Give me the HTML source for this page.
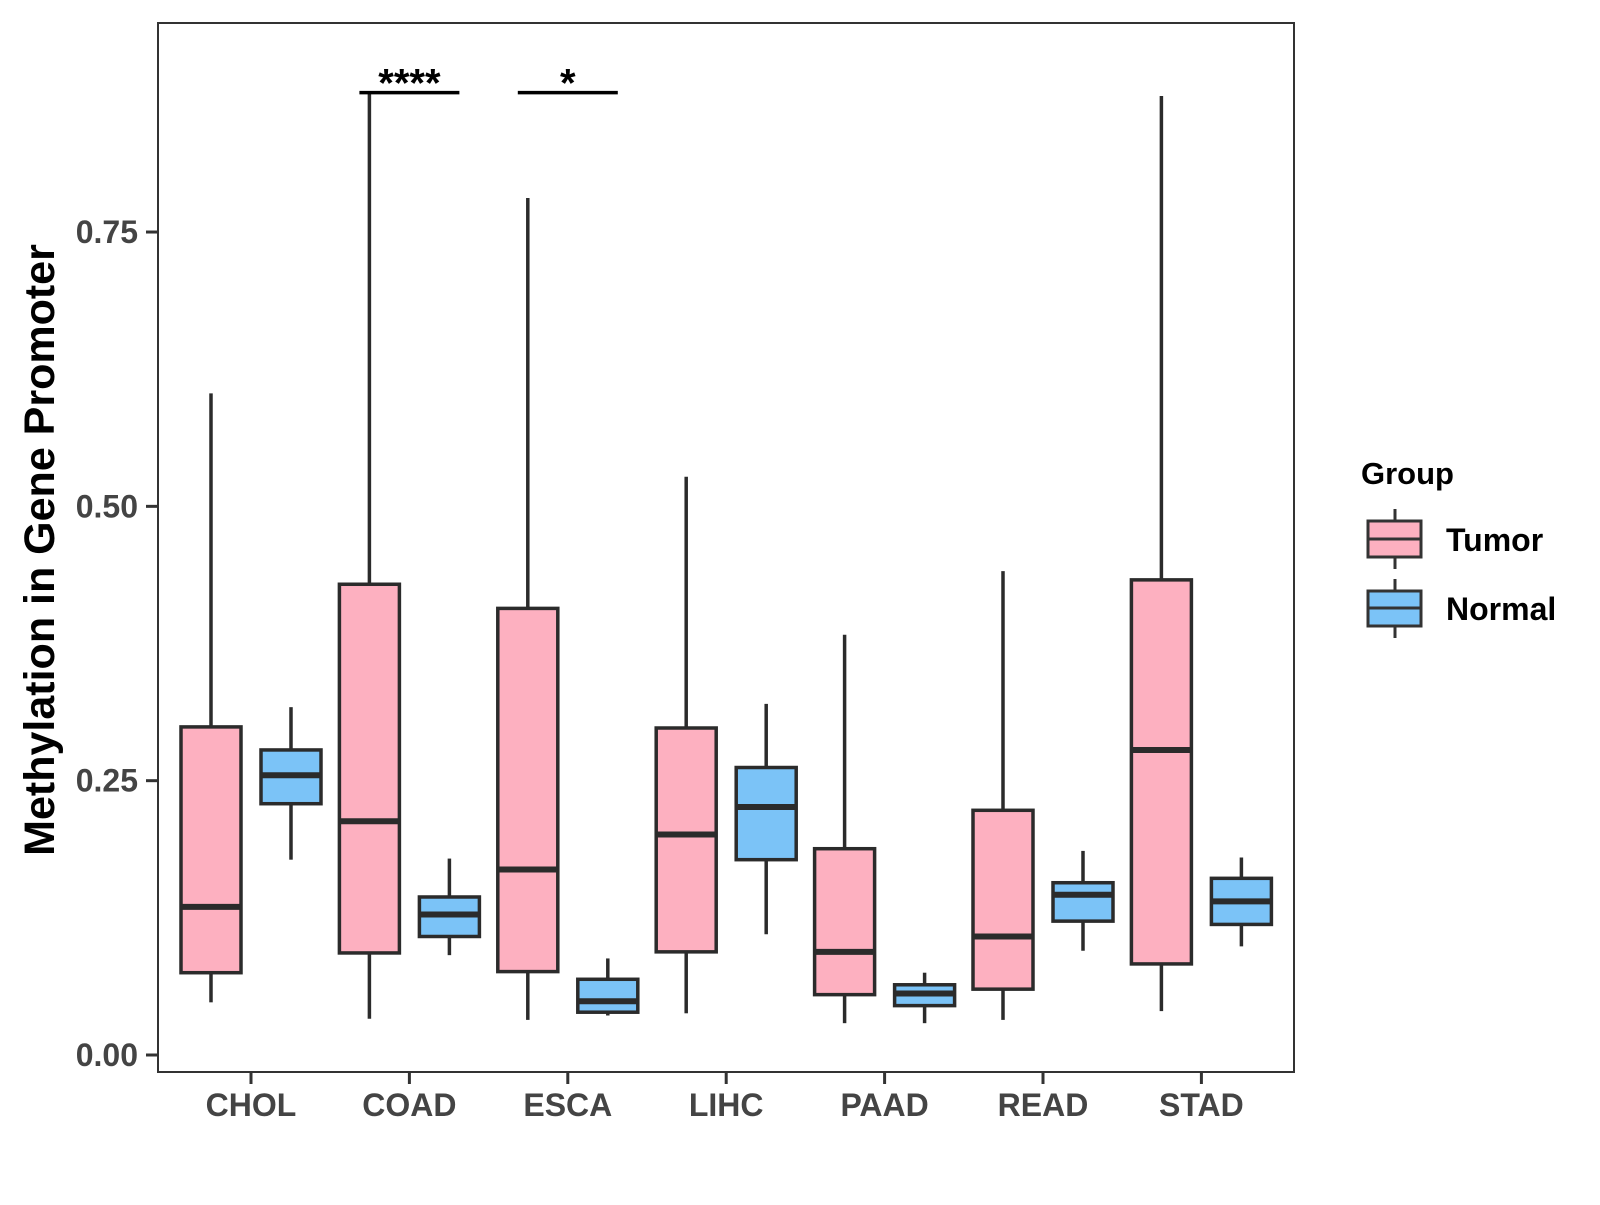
<!DOCTYPE html>
<html><head><meta charset="utf-8"><style>
body{margin:0;background:#fff}
svg text{font-family:"Liberation Sans",Arial,sans-serif;font-weight:bold}
</style></head><body>
<svg id="chart" width="1600" height="1200" xmlns="http://www.w3.org/2000/svg">
<rect x="0" y="0" width="1600" height="1200" fill="#fff"/>
<g id="marks"></g>
<rect x="158" y="23" width="1136" height="1049" fill="none" stroke="#333" stroke-width="2"/>
<g id="axes"></g>
<text x="54" y="550" transform="rotate(-90 54 550)" text-anchor="middle" font-size="43" fill="#000">Methylation in Gene Promoter</text>
<g transform="translate(-7,0)">
<text x="1368" y="484" font-size="31" fill="#000">Group</text>
<g>
<line x1="1402" y1="509" x2="1402" y2="569" stroke="#333" stroke-width="3"/>
<rect x="1375" y="521" width="53" height="36" fill="#FDB0C0" stroke="#333" stroke-width="3"/>
<line x1="1375" y1="539" x2="1428" y2="539" stroke="#333" stroke-width="3"/>
<text x="1453" y="551" font-size="32" fill="#000">Tumor</text>
</g>
<g>
<line x1="1402" y1="579" x2="1402" y2="638" stroke="#333" stroke-width="3"/>
<rect x="1375" y="591" width="53" height="35" fill="#7BC3F7" stroke="#333" stroke-width="3"/>
<line x1="1375" y1="608" x2="1428" y2="608" stroke="#333" stroke-width="3"/>
<text x="1453" y="620" font-size="32" fill="#000">Normal</text>
</g>
</g>
</svg>
<script>
const categories=["CHOL","COAD","ESCA","LIHC","PAAD","READ","STAD"];
const tumorMin=[0.048,0.033,0.032,0.038,0.029,0.032,0.040];
const tumorQ1=[0.075,0.093,0.076,0.094,0.055,0.060,0.083];
const tumorMed=[0.135,0.213,0.169,0.201,0.094,0.108,0.278];
const tumorQ3=[0.299,0.429,0.407,0.298,0.188,0.223,0.433];
const tumorMax=[0.603,0.878,0.781,0.527,0.383,0.441,0.874];
const normalMin=[0.178,0.091,0.036,0.110,0.029,0.095,0.099];
const normalQ1=[0.229,0.108,0.039,0.178,0.045,0.122,0.119];
const normalMed=[0.255,0.128,0.049,0.226,0.056,0.146,0.140];
const normalQ3=[0.278,0.144,0.069,0.262,0.064,0.157,0.161];
const normalMax=[0.317,0.179,0.088,0.320,0.075,0.186,0.180];
const yTicks=[0,0.25,0.5,0.75];
const yTickLabels=["0.00","0.25","0.50","0.75"];
const sigCats=["COAD","ESCA"];
const sigLabels=["****","*"];
const sigLevel=[0.878,0.878];

const NS="http://www.w3.org/2000/svg";
const y=v=>1055-v*1097.3;
const x=i=>251+i*158.4;
const marks=document.getElementById('marks');
const axes=document.getElementById('axes');
function mk(tag,attrs,parent){const e=document.createElementNS(NS,tag);for(const k in attrs)e.setAttribute(k,attrs[k]);parent.appendChild(e);return e;}

function box(cx,mn,q1,md,q3,mx,fill,name){
  const g=mk('g',{},marks);
  
  
  mk('line',{x1:cx,x2:cx,y1:y(mx),y2:y(q3),stroke:'#2b2b2b','stroke-width':3.5},g);
  mk('line',{x1:cx,x2:cx,y1:y(q1),y2:y(mn),stroke:'#2b2b2b','stroke-width':3.5},g);
  mk('rect',{x:cx-30,y:y(q3),width:60,height:y(q1)-y(q3),fill:fill,stroke:'#2b2b2b','stroke-width':3.5},g);
  mk('line',{x1:cx-30,x2:cx+30,y1:y(md),y2:y(md),stroke:'#2b2b2b','stroke-width':6},g);
}
categories.forEach((c,i)=>{
  box(x(i)-40,tumorMin[i],tumorQ1[i],tumorMed[i],tumorQ3[i],tumorMax[i],'#FDB0C0','box-tumor-'+c.toLowerCase());
  box(x(i)+40,normalMin[i],normalQ1[i],normalMed[i],normalQ3[i],normalMax[i],'#7BC3F7','box-normal-'+c.toLowerCase());
  mk('line',{x1:x(i),x2:x(i),y1:1072,y2:1084,stroke:'#333','stroke-width':3},axes);
  const t=mk('text',{x:x(i),y:1116,'text-anchor':'middle','font-size':32,fill:'#444'},axes);
  
  
  t.textContent=c;
});
yTicks.forEach((v,i)=>{
  mk('line',{x1:146,x2:158,y1:y(v),y2:y(v),stroke:'#333','stroke-width':3},axes);
  const t=mk('text',{x:138,y:y(v)+11,'text-anchor':'end','font-size':32,fill:'#444'},axes);
  
  
  t.textContent=yTickLabels[i];
});
sigCats.forEach((c,i)=>{
  const ci=categories.indexOf(c);
  const yy=y(sigLevel[i])+1;
  const l=mk('line',{x1:x(ci)-50,x2:x(ci)+50,y1:yy,y2:yy,stroke:'#000','stroke-width':3.5},marks);
  
  
  const t=mk('text',{x:x(ci),y:yy+4,'text-anchor':'middle','font-size':40,fill:'#000'},marks);
  
  
  t.textContent=sigLabels[i];
});
</script>
</body></html>
